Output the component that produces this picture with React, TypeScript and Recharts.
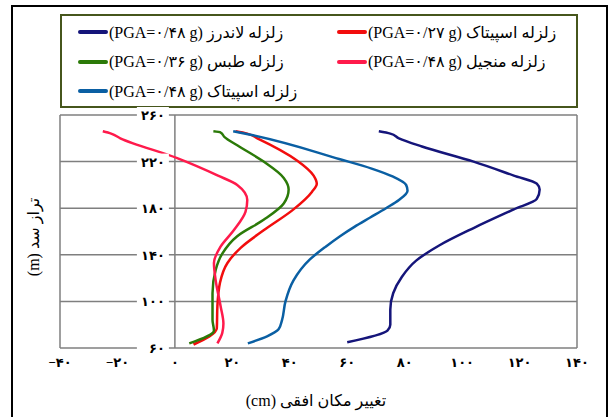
import React from 'react'
import {
  LineChart,
  Line,
  XAxis,
  YAxis,
  CartesianGrid,
  ReferenceLine,
  ReferenceDot,
} from 'recharts'

const faDigits = '۰۱۲۳۴۵۶۷۸۹'
const toFa = (n: number): string =>
  (n < 0 ? '−' : '') + String(Math.abs(n)).replace(/\d/g, (d) => faDigits[+d])

const xTicks = [-40, -20, 0, 20, 40, 60, 80, 100, 120, 140]
const yTicks = [60, 100, 140, 180, 220, 260]

// dam height (m), bottom to top, with horizontal displacement (cm)
const landersH = [65, 75, 80, 93, 107, 121, 135, 148, 163, 179, 188, 196, 201, 208, 220, 233, 240, 244, 246]
const landersX = [60, 74, 75, 75, 76, 79, 84, 92, 104, 118, 126, 127, 126, 118, 104, 86, 78, 75, 71]

const spitak27H = [63, 77, 96, 116, 133, 146, 161, 179, 194, 201, 208, 221, 240, 244, 246]
const spitak27X = [6.5, 14.6, 14.8, 15.7, 18.3, 22.9, 30.9, 41.3, 47.7, 49.4, 48.3, 42.5, 28.7, 25.2, 21.1]

const tabasH = [64, 75, 84, 107, 127, 141, 156, 170, 184, 196, 206, 220, 234, 241, 245, 246]
const tabasX = [5, 13.6, 13.1, 13.1, 14.2, 16.5, 21.7, 30.9, 37.9, 39.6, 37.9, 30.9, 21.7, 17.3, 15.9, 13.4]

const manjilH = [64, 73, 81, 96, 118, 133, 147, 161, 177, 187, 200, 208, 223, 240, 244, 246]
const manjilX = [14.8, 16.5, 16.9, 15.9, 14.2, 13.6, 15.9, 20.5, 24.6, 25.2, 21.7, 15, 0.8, -19, -22.2, -25.1]

const spitak48H = [64, 70, 76, 84, 100, 118, 136, 147, 156, 164, 172, 180, 187, 195, 200, 207, 214, 222, 243, 246]
const spitak48X = [25.4, 32.1, 36.1, 37.3, 38.5, 41.3, 47, 52.5, 57.5, 62.5, 68, 73.5, 78, 81, 80.5, 76, 68.5, 57.5, 26.3, 20.3]

const series = [
  { key: 'landers', name: 'زلزله لاندرز (PGA=۰/۴۸ g)', color: '#15157a', h: landersH, x: landersX },
  { key: 'spitak27', name: 'زلزله اسپیتاک (PGA=۰/۲۷ g)', color: '#f20d0d', h: spitak27H, x: spitak27X },
  { key: 'tabas', name: 'زلزله طبس (PGA=۰/۳۶ g)', color: '#2b7a08', h: tabasH, x: tabasX },
  { key: 'manjil', name: 'زلزله منجیل (PGA=۰/۴۸ g)', color: '#ff1a4b', h: manjilH, x: manjilX },
  { key: 'spitak48', name: 'زلزله اسپیتاک (PGA=۰/۴۸ g)', color: '#0a5fa3', h: spitak48H, x: spitak48X },
]

const legendColumns = [
  { left: 78, keys: ['landers', 'tabas', 'spitak48'] },
  { left: 337, keys: ['spitak27', 'manjil'] },
]

const fontFamily = "'Liberation Serif', 'DejaVu Sans', serif"

const XTick = (props: any) => {
  const { x, y, payload } = props
  return (
    <text x={x} y={y} dy={11} textAnchor="middle" fontSize={13} fontWeight="bold" fill="#000" fontFamily={fontFamily}>
      {toFa(payload.value)}
    </text>
  )
}

const YLabel = (props: any) => {
  const { cx, cy, value } = props
  return (
    <g>
      <rect x={cx - 38} y={cy - 8} width={32} height={16} fill="#fff" />
      <text x={cx - 10} y={cy} dy={5} textAnchor="end" fontSize={13} fontWeight="bold" fill="#000" fontFamily={fontFamily}>
        {toFa(value)}
      </text>
    </g>
  )
}

export default function App() {
  return (
    <div style={styles.page}>
      <div style={styles.frame} />
      <div style={styles.legendBox} />
      {legendColumns.map((col) =>
        col.keys.map((k, i) => {
          const s = series.find((d) => d.key === k)!
          return (
            <div key={k} style={{ ...styles.legendItem, left: col.left, top: 22 + i * 29.5 }}>
              <div style={{ ...styles.swatch, background: s.color }} />
              <span dir="rtl" style={styles.legendText}>
                {s.name}
              </span>
            </div>
          )
        })
      )}
      <div style={styles.yTitle}>
        <span dir="rtl">تراز سد (m)</span>
      </div>
      <div style={styles.xTitle}>
        <span dir="rtl">تغییر مکان افقی (cm)</span>
      </div>
      <div style={styles.chart}>
        <LineChart
          width={612}
          height={417}
          layout="vertical"
          margin={{ top: 115, right: 35, bottom: 39, left: 60 }}
        >
          <CartesianGrid vertical={false} stroke="#7f7f7f" strokeWidth={1.5} />
          <XAxis
            type="number"
            domain={[-40, 140]}
            ticks={xTicks}
            axisLine={false}
            tickLine={false}
            tick={<XTick />}
            height={30}
            allowDataOverflow
          />
          <YAxis
            type="number"
            dataKey="h"
            domain={[60, 260]}
            ticks={yTicks}
            reversed
            hide
            allowDataOverflow
          />
          <ReferenceLine x={-40} stroke="#7f7f7f" strokeWidth={1.5} />
          <ReferenceLine x={0} stroke="#7f7f7f" strokeWidth={1.5} />
          <ReferenceLine x={140} stroke="#7f7f7f" strokeWidth={1.5} />
          {yTicks.map((t) => (
            <ReferenceDot
              key={t}
              x={0}
              y={t}
              r={0}
              shape={(p: any) => <YLabel {...p} value={t} />}
            />
          ))}
          {series.map((s) => (
            <Line
              key={s.key}
              data={s.h.map((h, i) => ({ h, v: s.x[i] }))}
              dataKey="v"
              name={s.name}
              type="monotone"
              stroke={s.color}
              strokeWidth={2.5}
              dot={false}
              activeDot={false}
              isAnimationActive={false}
            />
          ))}
        </LineChart>
      </div>
    </div>
  )
}

const styles: Record<string, React.CSSProperties> = {
  page: {
    position: 'fixed',
    left: 0,
    top: 0,
    width: 612,
    height: 417,
    background: '#fff',
    fontFamily,
    overflow: 'hidden',
  },
  frame: {
    position: 'absolute',
    left: 11,
    top: 5,
    width: 593,
    height: 420,
    border: '2.5px solid #000',
  },
  legendBox: {
    position: 'absolute',
    left: 60,
    top: 14,
    width: 514,
    height: 90,
    border: '2px solid #46561c',
  },
  legendItem: {
    position: 'absolute',
    display: 'flex',
    alignItems: 'center',
    height: 20,
    whiteSpace: 'nowrap',
  },
  swatch: {
    width: 30,
    height: 4,
    borderRadius: 2,
  },
  legendText: {
    fontSize: 16,
    color: '#000',
    marginLeft: 1,
    unicodeBidi: 'isolate',
  },
  yTitle: {
    position: 'absolute',
    left: 33,
    top: 237,
    transform: 'translate(-50%, -50%) rotate(-90deg)',
    fontSize: 16,
    whiteSpace: 'nowrap',
  },
  xTitle: {
    position: 'absolute',
    left: 316,
    top: 400,
    transform: 'translate(-50%, -50%)',
    fontSize: 16,
    whiteSpace: 'nowrap',
  },
  chart: {
    position: 'absolute',
    left: 0,
    top: 0,
  },
}
